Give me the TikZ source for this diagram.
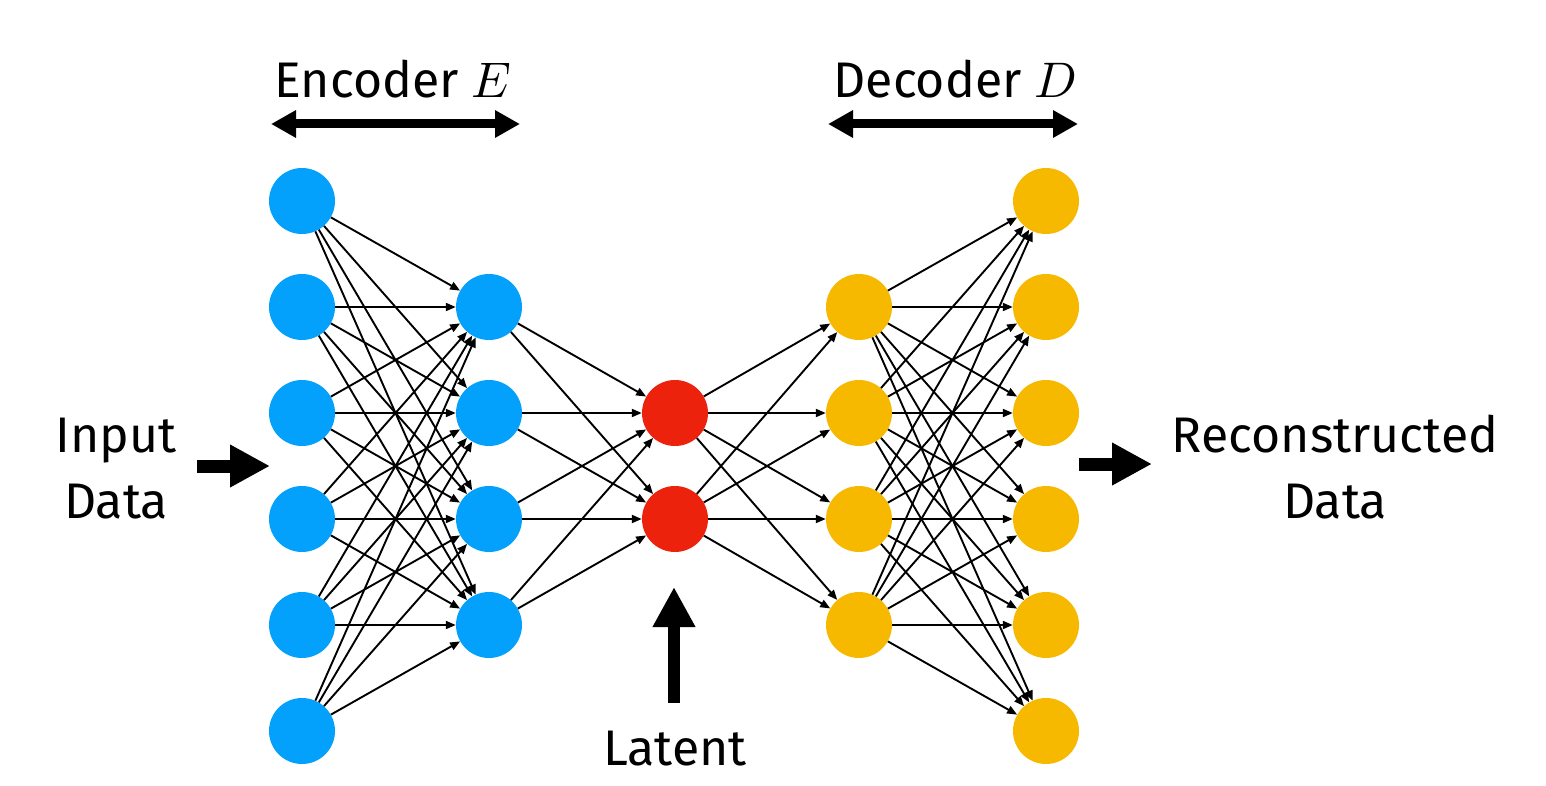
\documentclass[tikz,border=0pt]{standalone}
\usepackage{fontspec}
\usepackage{unicode-math}
\setmainfont{Fira Sans}
\usetikzlibrary{arrows.meta}
\definecolor{cblue}{RGB}{3,160,252}
\definecolor{cred}{RGB}{236,34,12}
\definecolor{cyellow}{RGB}{247,185,0}
\begin{document}
\begin{tikzpicture}[x=1pt,y=-1pt,
  neuron/.style={circle,minimum size=66pt,inner sep=0pt,draw=none},
  edge/.style={line width=1.9pt,-{Triangle[length=10pt,width=8pt]}},
  lbl/.style={anchor=base,inner sep=0pt,font=\fontsize{50}{60}\selectfont},
  bigarrow/.style={line width=13pt,-{Triangle[length=40pt,width=40pt]}},
  spanarrow/.style={line width=9pt,{Triangle[length=25pt,width=26pt]}-{Triangle[length=25pt,width=26pt]}}
]
\useasboundingbox (0,0) rectangle (1546,786);
% nodes
\foreach \i in {1,...,6}{
  \node[neuron,fill=cblue] (a\i) at (302,{95+106*\i}) {};
  \node[neuron,fill=cyellow] (e\i) at (1046,{95+106*\i}) {};
}
\foreach \i in {1,...,4}{
  \node[neuron,fill=cblue] (b\i) at (489,{201+106*\i}) {};
  \node[neuron,fill=cyellow] (d\i) at (859,{201+106*\i}) {};
}
\foreach \i in {1,2}{
  \node[neuron,fill=cred] (c\i) at (675,{307+106*\i}) {};
}
% edges
\foreach \i in {1,...,6}{\foreach \j in {1,...,4}{\draw[edge] (a\i) -- (b\j);}}
\foreach \i in {1,...,4}{\foreach \j in {1,2}{\draw[edge] (b\i) -- (c\j);}}
\foreach \i in {1,2}{\foreach \j in {1,...,4}{\draw[edge] (c\i) -- (d\j);}}
\foreach \i in {1,...,4}{\foreach \j in {1,...,6}{\draw[edge] (d\i) -- (e\j);}}
% span arrows
\coordinate (encL) at (271,124); \coordinate (encR) at (520,124);
\coordinate (decL) at (828,124); \coordinate (decR) at (1078,124);
\draw[spanarrow] (encL) -- (encR);
\draw[spanarrow] (decL) -- (decR);
\node[lbl] (enc) at (393,98) {Encoder $E$};
\node[lbl] (dec) at (955,98) {Decoder $D$};
% input
\coordinate (inA) at (197,466); \coordinate (inB) at (270,466);
\draw[bigarrow] (inA) -- (inB);
\node[lbl] (in1) at (116,452) {Input};
\node[lbl] (in2) at (116,518) {Data};
% output
\coordinate (outA) at (1079,464); \coordinate (outB) at (1152,464);
\draw[bigarrow] (outA) -- (outB);
\node[lbl] (out1) at (1335,452) {Reconstructed};
\node[lbl] (out2) at (1335,518) {Data};
% latent
\coordinate (latA) at (674,703); \coordinate (latB) at (674,587);
\draw[bigarrow,line width=12pt] (latA) -- (latB);
\node[lbl] (lat) at (675,765) {Latent};
\end{tikzpicture}
\end{document}
